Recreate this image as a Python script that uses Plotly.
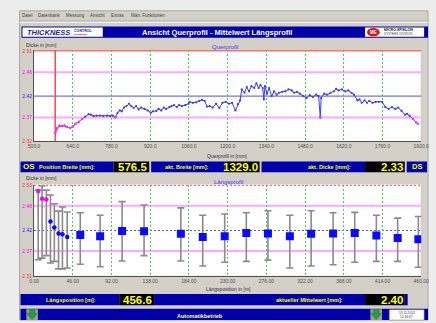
import plotly.graph_objects as go

W, H = 436, 323
FONT = "Liberation Sans, Arial, sans-serif"
NARROW = "Liberation Sans Narrow, Arial Narrow, Liberation Sans, sans-serif"

# Cross profile (Querprofil): width position [mm] and thickness [mm]
profile_mm = [577, 584, 592, 600, 610, 619, 631, 640, 650, 662,
              674, 685, 697, 705, 715, 726, 738, 750, 764, 775,
              785, 794, 802, 810, 817, 825, 834, 843, 851, 860,
              869, 878, 887, 899, 911, 922, 930, 942, 950, 960,
              969, 977, 989, 997, 1006, 1016, 1024, 1035, 1047, 1059,
              1062, 1074, 1086, 1097, 1107, 1117, 1125,
              1135, 1146, 1158, 1170, 1181, 1193, 1205, 1216, 1228, 1237,
              1245, 1251, 1261, 1269, 1277, 1286, 1296, 1304, 1312, 1319,
              1327, 1331, 1335, 1342, 1350, 1359, 1368, 1377, 1386, 1397,
              1409, 1420, 1432, 1440, 1450, 1461, 1473, 1485, 1497, 1508,
              1520, 1529, 1535, 1538, 1549, 1560, 1572, 1584, 1592, 1601,
              1613, 1625, 1636, 1648, 1657, 1669, 1677, 1685, 1695, 1704,
              1712, 1724, 1735, 1747, 1759, 1770, 1782, 1794, 1806, 1817,
              1829, 1841, 1849, 1858, 1870, 1881, 1888]
profile_thk = [2.338, 2.348, 2.353, 2.352, 2.353, 2.350, 2.348, 2.351, 2.357, 2.361,
               2.367, 2.372, 2.377, 2.376, 2.373, 2.374, 2.374, 2.373, 2.374, 2.373,
               2.374, 2.370, 2.380, 2.385, 2.383, 2.391, 2.394, 2.399, 2.394, 2.390,
               2.394, 2.387, 2.391, 2.388, 2.385, 2.380, 2.383, 2.384, 2.388, 2.385,
               2.391, 2.388, 2.392, 2.394, 2.396, 2.392, 2.396, 2.394, 2.396, 2.399,
               2.403, 2.401, 2.402, 2.405, 2.407, 2.405, 2.393,
               2.394, 2.391, 2.399, 2.390, 2.401, 2.403, 2.399, 2.401, 2.385, 2.398,
               2.406, 2.429, 2.422, 2.434, 2.425, 2.436, 2.432, 2.442, 2.432, 2.438,
               2.432, 2.408, 2.436, 2.420, 2.432, 2.415, 2.425, 2.418, 2.422, 2.424,
               2.425, 2.429, 2.427, 2.422, 2.424, 2.420, 2.415, 2.411, 2.417, 2.413,
               2.418, 2.415, 2.370, 2.411, 2.420, 2.418, 2.422, 2.425, 2.430, 2.427,
               2.429, 2.425, 2.427, 2.422, 2.418, 2.406, 2.408, 2.401, 2.406, 2.401,
               2.405, 2.401, 2.403, 2.403, 2.403, 2.392, 2.388, 2.392, 2.388, 2.391,
               2.384, 2.376, 2.378, 2.374, 2.367, 2.360, 2.357]

# Longitudinal profile (Längsprofil): position [m], mean / min / max thickness [mm]
long_pos = [4.9, 9.5, 14.6, 19.5, 24.1, 29.1, 33.7, 39.4,
            54.9, 78.5, 104.6, 130.7, 174.4, 200.4, 226.5, 252.2,
            277.9, 303.9, 329.2, 355.3, 381.0, 406.7, 432.0, 456.6]
long_mean = [2.516, 2.497, 2.495, 2.442, 2.427, 2.413, 2.411, 2.404,
             2.409, 2.406, 2.419, 2.418, 2.412, 2.404, 2.406, 2.414,
             2.413, 2.406, 2.412, 2.413, 2.414, 2.408, 2.402, 2.399]
long_min = [2.349, 2.353, 2.359, 2.341, 2.345, 2.327, 2.327, 2.329,
            2.338, 2.332, 2.346, 2.359, 2.346, 2.334, 2.343, 2.345,
            2.348, 2.329, 2.334, 2.337, 2.343, 2.345, 2.345, 2.331]
long_max = [2.518, 2.528, 2.518, 2.506, 2.485, 2.467, 2.477, 2.465,
            2.463, 2.457, 2.490, 2.482, 2.475, 2.457, 2.460, 2.463,
            2.468, 2.457, 2.468, 2.463, 2.464, 2.457, 2.450, 2.454]

# Axis ticks and tolerance limits
cross_ticks_mm = [500.0, 640.0, 780.0, 920.0, 1060.0, 1200.0, 1340.0, 1480.0, 1620.0, 1760.0, 1900.0]
long_ticks_m = [0.0, 46.0, 92.0, 138.0, 184.0, 230.0, 276.0, 322.0, 368.0, 414.0, 460.0]
cross_limits = [2.32, 2.37, 2.415, 2.465, 2.51]
cross_limit_labels = ["2.32", "2.37", "2.42", "2.46", "2.51"]
long_limits = [2.31, 2.37, 2.42, 2.48, 2.53]
long_limit_labels = ["2.31", "2.37", "2.42", "2.48", "2.53"]

# Live readouts
cursor_mm = 576.5
current_width_mm = 1329.0
current_thk = 2.33
long_position = 456.6
current_mean = 2.40

RED = "#ff3030"
MAGENTA = "#ff00ff"
BLUE = "#2020ff"
PANEL_BLUE = "#0000a8"
WIN_GRAY = "#d4d0c8"
GRID_GREEN = "#44d444"
LIMIT_COLORS = [RED, MAGENTA, BLUE, MAGENTA, RED]


def fx(x):
    return x / W


def fy(y):
    return 1 - y / H


shapes = []
annotations = []


def rect(x0, y0, x1, y1, fill, line=None, lw=0):
    shapes.append(dict(type="rect", xref="paper", yref="paper", layer="below",
                       x0=fx(x0), x1=fx(x1), y0=fy(y1), y1=fy(y0),
                       fillcolor=fill, line=dict(color=line or fill, width=lw)))


def hline_paper(x0, x1, y, color, width=1, dash="solid"):
    shapes.append(dict(type="line", xref="paper", yref="paper", layer="below",
                       x0=fx(x0), x1=fx(x1), y0=fy(y), y1=fy(y),
                       line=dict(color=color, width=width, dash=dash)))


def text(x, y, s, size=5, color="#303030", bold=False, italic=False,
         xanchor="left", family=FONT):
    if bold:
        s = f"<b>{s}</b>"
    if italic:
        s = f"<i>{s}</i>"
    annotations.append(dict(x=fx(x), y=fy(y), xref="paper", yref="paper", text=s,
                            showarrow=False, xanchor=xanchor, yanchor="middle",
                            borderpad=0,
                            font=dict(size=size, color=color, family=family)))


# ---- application window frame ----
rect(14, 8, 436, 323, WIN_GRAY, "#a8a8a8", 1)
hline_paper(14, 436, 18.5, "#a0a0a0")
hline_paper(14, 436, 19.5, "#ffffff")
for label, x in [("Datei", 16), ("Datenbank", 32), ("Messung", 61), ("Ansicht", 86),
                 ("Extras", 107), ("Man. Funktionen", 128)]:
    text(x, 13, label, size=4.5, color="#404040")

# ---- title bar ----
rect(16, 24, 436, 35.5, PANEL_BLUE)
rect(17, 25, 100, 34.5, "#ffffff")
rect(371, 25, 432, 34.5, "#ffffff")
text(21, 29.8, "THICKNESS", size=7.5, color="#1a2a9a", bold=True, italic=True)
text(69, 28.5, "CONTROL", size=3.6, color="#1a2a9a", bold=True)
text(69, 32.2, "▬▬▬▬▬", size=2.5, color="#e05050")
text(218, 29.8, "Ansicht Querprofil - Mittelwert Längsprofil", size=7.5,
     color="#ffffff", bold=True, xanchor="center")
shapes.append(dict(type="circle", xref="paper", yref="paper", layer="above",
                   x0=fx(373), x1=fx(386), y0=fy(34), y1=fy(25.5),
                   fillcolor="#d81818", line=dict(color="#d81818", width=0)))
text(379.5, 29.8, "ME", size=4.5, color="#ffffff", bold=True, xanchor="center")
text(389, 27.6, "MICRO-EPSILON", size=3.6, color="#202020", bold=True)
text(389, 31.8, "SYSTEMS DIVISION", size=3.0, color="#404040")

# ---- plot areas ----
X_DOM = [fx(29), fx(429)]
Y1_DOM = [fy(141), fy(48)]
Y2_DOM = [fy(278), fy(185)]
rect(29, 48, 429, 141, "#ffffff")
rect(29, 185, 429, 278, "#ffffff")
for dom in (Y1_DOM, Y2_DOM):
    shapes.append(dict(type="line", xref="paper", yref="paper", layer="below",
                       x0=fx(429), x1=fx(429), y0=dom[0], y1=dom[1],
                       line=dict(color="#c8c8c8", width=1)))


def limit_lines(yref, limits, top_dash):
    styles = [None,
              dict(color="#ffa8ff", width=2, dash="solid"),
              dict(color="#5050ff", width=1, dash="solid" if top_dash == "solid" else "2px,2px"),
              dict(color="#ffa8ff", width=2, dash="solid"),
              dict(color="#ff7070", width=1.5, dash=top_dash)]
    for val, st in zip(limits, styles):
        if st is None:
            continue
        shapes.append(dict(type="line", xref="paper", yref=yref, layer="below",
                           x0=X_DOM[0], x1=X_DOM[1], y0=val, y1=val, line=st))


limit_lines("y", cross_limits, "solid")
limit_lines("y2", long_limits, "2px,2px")

# position cursor in the cross profile
shapes.append(dict(type="line", xref="x", yref="y domain", layer="below",
                   x0=cursor_mm, x1=cursor_mm, y0=0, y1=1,
                   line=dict(color="#ff4848", width=1.5)))

# ---- chart captions ----
text(20, 42.5, "Dicke in [mm]", size=5, color="#303030")
text(226, 44.5, "Querprofil", size=6, color="#3a3aff", xanchor="center")
text(228, 155.5, "Querprofil in [mm]", size=5, color="#303030", xanchor="center")
text(20, 178.5, "Dicke in [mm]", size=5, color="#303030")
text(230, 182, "Längsprofil", size=6, color="#3a3aff", xanchor="center")
text(230, 291.5, "Längsposition in [m]", size=5, color="#303030", xanchor="center")

# ---- readout bar 1 ----
YB1, YB1b = 161.5, 172.5
rect(15, YB1, 111, YB1b, PANEL_BLUE)
rect(111, YB1, 148, YB1b, "#000000")
rect(150, YB1, 226, YB1b, PANEL_BLUE)
rect(226, YB1, 262, YB1b, "#000000")
rect(264, YB1, 371, YB1b, PANEL_BLUE)
rect(371, YB1, 412, YB1b, "#000000")
rect(414, YB1, 435, YB1b, PANEL_BLUE)
ym1 = (YB1 + YB1b) / 2
text(17, ym1, "OS", size=8, color="#ffff00", bold=True)
text(33, ym1, "Position Breite [mm]:", size=5.5, color="#ffff00", bold=True)
text(147, ym1 + 0.3, f"{cursor_mm:.1f}", size=11.5, color="#ffff00", bold=True,
     xanchor="right", family=NARROW)
text(163, ym1, "akt. Breite [mm]:", size=5.5, color="#ffff00", bold=True)
text(261, ym1 + 0.3, f"{current_width_mm:.1f}", size=11.5, color="#ffff00", bold=True,
     xanchor="right", family=NARROW)
text(311, ym1, "akt. Dicke [mm]:", size=5.5, color="#ffff00", bold=True)
text(411, ym1 + 0.3, f"{current_thk:.2f}", size=11.5, color="#ffff00", bold=True,
     xanchor="right", family=NARROW)
text(424.5, ym1, "DS", size=7.5, color="#ffff00", bold=True, xanchor="center")

# ---- readout bar 2 ----
YB2, YB2b = 296.5, 308
rect(15, YB2, 117, YB2b, PANEL_BLUE)
rect(117, YB2, 153, YB2b, "#000000")
rect(153, YB2, 371, YB2b, PANEL_BLUE)
rect(371, YB2, 412, YB2b, "#000000")
rect(412, YB2, 415, YB2b, PANEL_BLUE)
ym2 = (YB2 + YB2b) / 2
text(40, ym2, "Längsposition [m]:", size=5.5, color="#ffff00", bold=True)
text(152, ym2 + 0.3, f"{long_position:.1f}", size=11.5, color="#ffff00", bold=True,
     xanchor="right", family=NARROW)
text(278, ym2, "aktueller Mittelwert [mm]:", size=5.5, color="#ffff00", bold=True)
text(411, ym2 + 0.3, f"{current_mean:.2f}", size=11.5, color="#ffff00", bold=True,
     xanchor="right", family=NARROW)

# ---- status bar ----
rect(15, 311.5, 436, 323, PANEL_BLUE)
for x0 in (21, 376.5):
    rect(x0, 312, x0 + 12, 323, "#9a9a9a")
    cx = x0 + 6
    pts = [(cx - 2.5, 312.5), (cx + 2.5, 312.5), (cx + 2.5, 316.5), (cx + 5, 316.5),
           (cx, 322.5), (cx - 5, 316.5), (cx - 2.5, 316.5)]
    path = "M " + " L ".join(f"{fx(a):.5f},{fy(b):.5f}" for a, b in pts) + " Z"
    shapes.append(dict(type="path", xref="paper", yref="paper", layer="above",
                       path=path, fillcolor="#22a03a", line=dict(color="#126a22", width=0.5)))
rect(396, 312.5, 432, 323, "#ffffff", "#808080", 0.5)
text(414, 315.5, "13.11.2013", size=3.2, color="#303030", xanchor="center")
text(414, 319.5, "12:34:37", size=3.2, color="#303030", xanchor="center")
text(200, 318.5, "Automatikbetrieb", size=5.5, color="#ffff90", bold=True, xanchor="center")

# ---- traces ----
THR_LOW = cross_limits[1] + 0.002
profile_low = [v if v < THR_LOW else None for v in profile_thk]

traces = [
    go.Scatter(x=profile_mm, y=profile_thk, mode="lines+markers",
               line=dict(color="#3a3aff", width=1), marker=dict(size=2.2, color="#3a3aff"),
               xaxis="x", yaxis="y", hoverinfo="skip"),
    go.Scatter(x=profile_mm, y=profile_low, mode="lines+markers",
               line=dict(color="#ff30ff", width=1), marker=dict(size=2.2, color="#ff30ff"),
               xaxis="x", yaxis="y", hoverinfo="skip"),
]

THR_HIGH = long_limits[3]
ramp = [i for i, p in enumerate(long_pos) if p < long_ticks_m[1]]
steady = [i for i, p in enumerate(long_pos) if p >= long_ticks_m[1]]
for idx, sym, size in ((ramp, "circle", 4.5), (steady, "square", 8)):
    xs = [long_pos[i] for i in idx]
    ys = [long_mean[i] for i in idx]
    up = [long_max[i] - long_mean[i] for i in idx]
    dn = [long_mean[i] - long_min[i] for i in idx]
    cols = [MAGENTA if long_mean[i] > THR_HIGH else "#0a0aff" for i in idx]
    traces.append(go.Scatter(
        x=xs, y=ys, mode="markers",
        marker=dict(symbol=sym, size=size, color=cols, line=dict(width=0)),
        error_y=dict(type="data", array=up, arrayminus=dn, color="#8a8a8a",
                     thickness=1.6, width=3.5),
        xaxis="x2", yaxis="y2", hoverinfo="skip"))

fig = go.Figure(traces)


def colored(labels):
    return [f'<span style="color:{c}">{t}</span>' for t, c in zip(labels, LIMIT_COLORS)]


axis_common = dict(showgrid=False, zeroline=False, ticks="", showline=True,
                   linecolor="#505050", linewidth=1, fixedrange=True,
                   ticklabeloverflow="allow",
                   tickfont=dict(size=5, color="#505050", family=FONT))

fig.update_layout(
    width=W, height=H, autosize=False,
    margin=dict(l=0, r=0, t=0, b=0),
    paper_bgcolor="#ececec", plot_bgcolor="rgba(0,0,0,0)",
    showlegend=False,
    font=dict(family=FONT),
    shapes=shapes, annotations=annotations,
    xaxis=dict(axis_common, domain=X_DOM, anchor="y", range=[500, 1900],
               tickmode="array", tickvals=cross_ticks_mm,
               ticktext=[f"{v:.1f}" for v in cross_ticks_mm],
               showgrid=True, gridcolor=GRID_GREEN, griddash="2px,2px", gridwidth=1),
    yaxis=dict(axis_common, domain=Y1_DOM, anchor="x", range=[2.32, 2.5115],
               tickmode="array", tickvals=cross_limits,
               ticktext=colored(cross_limit_labels)),
    xaxis2=dict(axis_common, domain=X_DOM, anchor="y2", range=[0, 460],
                tickmode="array", tickvals=long_ticks_m,
                ticktext=[f"{v:.2f}" for v in long_ticks_m],
                showgrid=True, gridcolor=GRID_GREEN, griddash="2px,2px", gridwidth=1),
    yaxis2=dict(axis_common, domain=Y2_DOM, anchor="x2", range=[2.31, 2.5315],
                tickmode="array", tickvals=long_limits,
                ticktext=colored(long_limit_labels)),
)

fig.write_html("out.html")
